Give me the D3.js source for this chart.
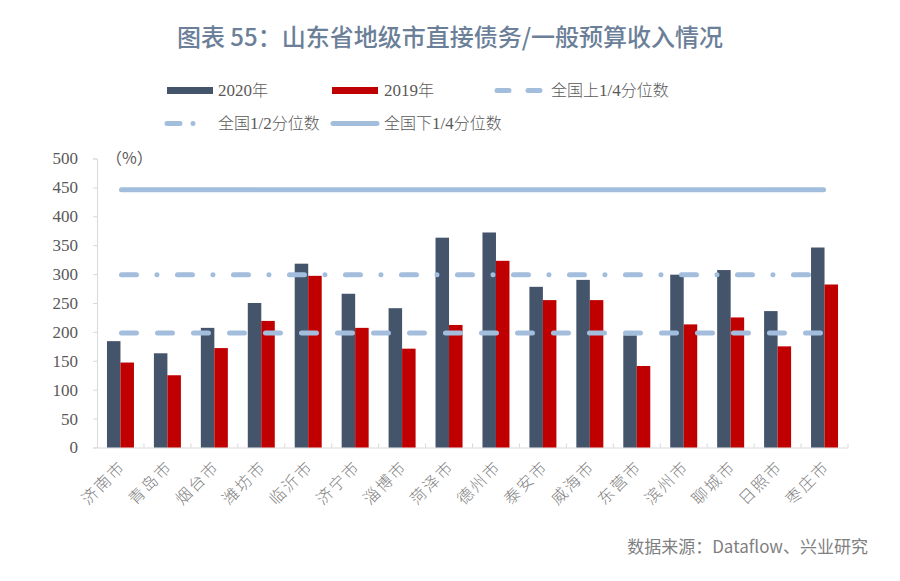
<!DOCTYPE html>
<html><head><meta charset="utf-8">
<script src="https://cdn.jsdelivr.net/npm/d3@7"></script>
<style>
body{margin:0;background:#fff;}
svg{display:block;}
</style></head>
<body>
<svg id="chart" width="900" height="581"></svg>
<script>
const categories = ["济南市","青岛市","烟台市","潍坊市","临沂市","济宁市","淄博市","菏泽市","德州市","泰安市","威海市","东营市","滨州市","聊城市","日照市","枣庄市"];
const values2020 = [184,163,207,250,318,266,241,363,372,278,290,194,299,307,236,346];
const values2019 = [147,125,172,219,297,207,171,212,323,255,255,141,213,225,175,282];
const upperQuartile = 198;   // 全国上1/4分位数 (dashed)
const median = 299;          // 全国1/2分位数 (dash-dot)
const lowerQuartile = 446;   // 全国下1/4分位数 (solid)
const yTicks = [0,50,100,150,200,250,300,350,400,450,500];

(function(){
const svg = d3.select("#chart");
const pLeft = 97, pRight = 848, pTop = 158.5, pBottom = 447.5;
const cnFont = "'Noto Sans CJK SC','Noto Sans',sans-serif";
const numFont = "'Liberation Serif','DejaVu Serif',serif";
const textCol = "#595959";
const lineCol = "#a3bedd";

// title
svg.append("text").attr("x",450).attr("y",46).attr("text-anchor","middle")
  .attr("font-family",cnFont).attr("font-size",24).attr("font-weight",500)
  .attr("fill","#6b8098").text("图表 55：山东省地级市直接债务/一般预算收入情况");

const x = d3.scaleBand().domain(categories).range([pLeft,pRight]).paddingInner(0).paddingOuter(0);
const inner = d3.scaleBand().domain(["2020","2019"]).range([x.bandwidth()/2-13.5, x.bandwidth()/2+13.5]);
const y = d3.scaleLinear().domain([0,500]).range([pBottom,pTop]);

// y axis
const yAxis = svg.append("g").attr("transform",`translate(${pLeft},0)`)
  .call(d3.axisLeft(y).tickValues(yTicks).tickSize(4).tickPadding(15));
yAxis.select(".domain").attr("stroke","#d9d9d9");
yAxis.selectAll(".tick line").attr("stroke","#d9d9d9");
yAxis.selectAll(".tick text").attr("font-family",numFont).attr("font-size",17).attr("fill",textCol);

// x axis
const xAxis = svg.append("g").attr("transform",`translate(0,${pBottom})`)
  .call(d3.axisBottom(x).tickSize(0).tickFormat(""));
xAxis.select(".domain").attr("stroke","#d9d9d9");
const boundaries = categories.map(c=>x(c)).slice(1).concat([pRight]);
svg.append("g").selectAll("line").data(boundaries).join("line")
  .attr("x1",d=>d).attr("x2",d=>d).attr("y1",pBottom).attr("y2",pBottom-4)
  .attr("stroke","#d9d9d9");

// bars
const g = svg.append("g");
g.selectAll("rect.a").data(categories).join("rect").attr("class","a")
  .attr("x",d=>x(d)+inner("2020")).attr("width",inner.bandwidth())
  .attr("y",(d,i)=>y(values2020[i])).attr("height",(d,i)=>pBottom-y(values2020[i]))
  .attr("fill","#44546a");
g.selectAll("rect.b").data(categories).join("rect").attr("class","b")
  .attr("x",d=>x(d)+inner("2019")).attr("width",inner.bandwidth())
  .attr("y",(d,i)=>y(values2019[i])).attr("height",(d,i)=>pBottom-y(values2019[i]))
  .attr("fill","#c00000");

// reference lines
const x0 = x(categories[0])+x.bandwidth()/2, x1 = x(categories[categories.length-1])+x.bandwidth()/2;
function refLine(v, dash){
  svg.append("line").attr("x1",x0+1).attr("x2",x1-1).attr("y1",y(v)).attr("y2",y(v))
    .attr("stroke",lineCol).attr("stroke-width",5).attr("stroke-linecap","round")
    .attr("stroke-dasharray",dash);
}
refLine(lowerQuartile,null);
refLine(median,"15,20.5,0,20.5");
refLine(upperQuartile,"15,21");

// x labels
svg.append("g").selectAll("text").data(categories).join("text")
  .attr("transform",d=>`translate(${x(d)+x.bandwidth()/2+6},${pBottom+20}) rotate(-45)`)
  .attr("text-anchor","end").attr("font-family",cnFont).attr("font-size",16).attr("font-weight",300)
  .attr("letter-spacing",2).attr("fill","#808080").text(d=>d);

// unit
svg.append("text").attr("x",106).attr("y",164).attr("font-family",cnFont).attr("font-size",16)
  .attr("fill",textCol).text("（%）");

// legend
const leg = svg.append("g");
leg.append("rect").attr("x",167).attr("y",87).attr("width",46).attr("height",7).attr("fill","#44546a");
leg.append("rect").attr("x",332).attr("y",87).attr("width",46).attr("height",7).attr("fill","#c00000");
function mixText(xp, yp, parts){
  const t = leg.append("text").attr("x",xp).attr("y",yp).attr("fill",textCol);
  parts.forEach(p=>t.append("tspan").attr("font-family",p[1]?numFont:cnFont)
    .attr("font-size",p[1]?17:16).attr("font-weight",p[1]?400:300).text(p[0]));
}
mixText(218,96,[["2020",1],["年",0]]);
mixText(384,96,[["2019",1],["年",0]]);
leg.append("line").attr("x1",497).attr("x2",546).attr("y1",90.5).attr("y2",90.5)
  .attr("stroke",lineCol).attr("stroke-width",5).attr("stroke-linecap","round").attr("stroke-dasharray","12,19");
mixText(551,96,[["全国上",0],["1/4",1],["分位数",0]]);
leg.append("line").attr("x1",167).attr("x2",196).attr("y1",123.5).attr("y2",123.5)
  .attr("stroke",lineCol).attr("stroke-width",5).attr("stroke-linecap","round").attr("stroke-dasharray","13,13,0,30");
mixText(218,129,[["全国",0],["1/2",1],["分位数",0]]);
leg.append("line").attr("x1",333).attr("x2",377).attr("y1",123.5).attr("y2",123.5)
  .attr("stroke",lineCol).attr("stroke-width",5).attr("stroke-linecap","round");
mixText(384,129,[["全国下",0],["1/4",1],["分位数",0]]);

// source
svg.append("text").attr("x",868).attr("y",553).attr("text-anchor","end")
  .attr("font-family",cnFont).attr("font-size",17).attr("fill","#7f7f7f")
  .text("数据来源：Dataflow、兴业研究");
})();
</script>
</body></html>
